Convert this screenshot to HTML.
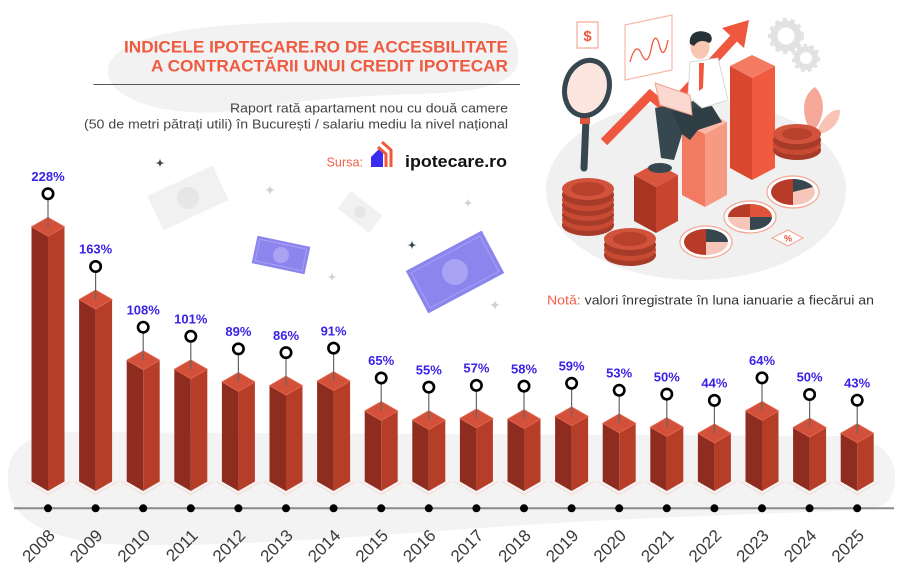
<!DOCTYPE html>
<html><head><meta charset="utf-8"><style>
html,body{margin:0;padding:0;background:#fff;}
svg{display:block;font-family:"Liberation Sans",sans-serif;}
</style></head><body>
<svg width="900" height="581" viewBox="0 0 900 581" xmlns="http://www.w3.org/2000/svg">
<rect width="900" height="581" fill="#fff"/>
<!-- background blobs -->
<path d="M108,70 C110,35 200,22 320,22 L470,22 C510,22 520,40 518,60 C516,85 480,92 420,94 C340,96 290,102 240,110 C170,120 106,100 108,70 Z" fill="#f2f2f2"/>
<path d="M8,485 C5,450 25,433 70,432 L840,436 C880,437 896,455 895,480 C894,500 885,508 860,510 C760,514 620,518 480,528 C360,537 220,547 130,545 C50,543 10,520 8,485 Z" fill="#f3f3f3"/>

<!-- title -->
<text x="508" y="52.3" text-anchor="end" font-size="17" font-weight="bold" fill="#f05a40" textLength="384" lengthAdjust="spacingAndGlyphs">INDICELE IPOTECARE.RO DE ACCESBILITATE</text>
<text x="508" y="71.7" text-anchor="end" font-size="17" font-weight="bold" fill="#f05a40" textLength="357" lengthAdjust="spacingAndGlyphs">A CONTRACTĂRII UNUI CREDIT IPOTECAR</text>
<line x1="93.5" y1="84.5" x2="520" y2="84.5" stroke="#555" stroke-width="1"/>
<text x="508" y="112.5" text-anchor="end" font-size="13" fill="#444" textLength="278" lengthAdjust="spacingAndGlyphs">Raport rată apartament nou cu două camere</text>
<text x="508" y="128.5" text-anchor="end" font-size="13" fill="#444" textLength="424" lengthAdjust="spacingAndGlyphs">(50 de metri pătrați utili) în București / salariu mediu la nivel național</text>

<!-- source -->
<text x="326.5" y="166.5" font-size="13" fill="#f2604a" textLength="36.5" lengthAdjust="spacingAndGlyphs">Sursa:</text>
<polygon points="371,167 371,157 380,148 383,150 383,167" fill="#3b2cf0"/>
<polyline points="378,147 386,154 386,167" fill="none" stroke="#f05a3a" stroke-width="3"/>
<polyline points="382,142 391,150 391,167" fill="none" stroke="#f05a3a" stroke-width="3"/>
<text x="405" y="167" font-size="17" font-weight="bold" fill="#111" textLength="102" lengthAdjust="spacingAndGlyphs">ipotecare.ro</text>

<!-- note -->
<text x="547" y="304.5" font-size="13" fill="#333" textLength="327" lengthAdjust="spacingAndGlyphs"><tspan fill="#f2604a">Notă:</tspan> valori înregistrate în luna ianuarie a fiecărui an</text>

<!-- floating money -->
<g transform="translate(188,198) rotate(-25)"><rect x="-36" y="-19" width="72" height="38" fill="#f1f1f1"/><circle r="11" fill="#e6e6e6"/></g>
<g transform="translate(360,212) rotate(38)"><rect x="-20" y="-11" width="40" height="22" fill="#f1f1f1"/><circle r="6" fill="#e6e6e6"/></g>
<g transform="translate(281,255) rotate(12)"><rect x="-27" y="-14" width="54" height="28" fill="#8c85ee"/><rect x="-24" y="-11" width="48" height="22" fill="none" stroke="#a7a1f3" stroke-width="1"/><circle r="8" fill="#a9a3f4"/></g>
<g transform="translate(455,272) rotate(-28)"><rect x="-43" y="-24" width="86" height="48" fill="#8c85ee"/><rect x="-39" y="-20" width="78" height="40" fill="none" stroke="#a7a1f3" stroke-width="1"/><circle r="13" fill="#a9a3f4"/></g>
<!-- sparkles -->
<g fill="#37474f">
<path d="M160,158 Q160,163 165,163 Q160,163 160,168 Q160,163 155,163 Q160,163 160,158 Z"/>
<path d="M412,240 Q412,245 417,245 Q412,245 412,250 Q412,245 407,245 Q412,245 412,240 Z"/>
</g>
<g fill="#d0d0d0">
<path d="M270,184 Q270,190 276,190 Q270,190 270,196 Q270,190 264,190 Q270,190 270,184 Z"/>
<path d="M468,198 Q468,203 473,203 Q468,203 468,208 Q468,203 463,203 Q468,203 468,198 Z"/>
<path d="M332,272 Q332,277 337,277 Q332,277 332,282 Q332,277 327,277 Q332,277 332,272 Z"/>
<path d="M495,299 Q495,305 501,305 Q495,305 495,311 Q495,305 489,305 Q495,305 495,299 Z"/>
</g>

<!-- illustration -->
<g>
<ellipse cx="696" cy="190" rx="150" ry="90" fill="#f0f0f0"/>
<rect x="577" y="22" width="21" height="26" fill="#fff" stroke="#f4a896" stroke-width="1.2"/>
<text x="587.5" y="41" text-anchor="middle" font-size="15" font-weight="bold" fill="#f05a40">$</text>
<polygon points="625,25 672,15 672,70 625,80" fill="#fff" stroke="#f6b9aa" stroke-width="1.2"/>
<path d="M630,62 Q636,40 642,55 Q648,68 652,45 Q656,30 660,48 Q664,60 668,40" fill="none" stroke="#f05a40" stroke-width="1.3"/>
<circle cx="786" cy="36" r="12" fill="none" stroke="#e2e2e2" stroke-width="7"/>
<circle cx="786" cy="36" r="16" fill="none" stroke="#e2e2e2" stroke-width="4" stroke-dasharray="4 4"/>
<circle cx="806" cy="58" r="9" fill="none" stroke="#e2e2e2" stroke-width="6"/>
<circle cx="806" cy="58" r="12.5" fill="none" stroke="#e2e2e2" stroke-width="3.5" stroke-dasharray="3.5 3.5"/>
<path d="M812,133 C800,115 802,95 815,87 C826,98 826,118 812,133 Z" fill="#f6a898"/>
<path d="M815,135 C822,118 832,108 840,110 C840,124 830,133 815,135 Z" fill="#f9c3b6"/>
<polyline points="604,142 650,95 668,110 736,36" fill="none" stroke="#f0573f" stroke-width="9" stroke-linejoin="miter"/>
<polygon points="749,20 722,28 744,48" fill="#f0573f"/>
<polygon points="730,66 752,78 752,180 730,168" fill="#d9472f"/>
<polygon points="752,78 775,66 775,168 752,180" fill="#f05a3f"/>
<polygon points="730,66 752,55 775,66 752,78" fill="#f47b62"/>
<polygon points="682,122 705,134 705,207 682,195" fill="#f27a60"/>
<polygon points="705,134 727,122 727,195 705,207" fill="#f79a84"/>
<polygon points="682,122 705,110 727,122 705,134" fill="#fbb9a8"/>
<polygon points="634,175 656,187 656,233 634,221" fill="#a83522"/>
<polygon points="656,187 678,175 678,221 656,233" fill="#c9442d"/>
<polygon points="634,175 656,163 678,175 656,187" fill="#d9553d"/>
<line x1="586" y1="118" x2="584" y2="168" stroke="#37474f" stroke-width="7" stroke-linecap="round"/>
<rect x="580" y="117" width="10" height="7" fill="#e0553c"/>
<ellipse cx="587" cy="88" rx="22" ry="28" fill="#fde6e0" stroke="#37474f" stroke-width="5" transform="rotate(15 587 88)"/>
<g>
<ellipse cx="588" cy="225" rx="26" ry="11" fill="#a53b28"/><ellipse cx="588" cy="220" rx="26" ry="11" fill="#c94a33"/>
<ellipse cx="588" cy="215" rx="26" ry="11" fill="#a53b28"/><ellipse cx="588" cy="210" rx="26" ry="11" fill="#c94a33"/>
<ellipse cx="588" cy="205" rx="26" ry="11" fill="#a53b28"/><ellipse cx="588" cy="200" rx="26" ry="11" fill="#c94a33"/>
<ellipse cx="588" cy="195" rx="26" ry="11" fill="#a53b28"/><ellipse cx="588" cy="189" rx="26" ry="11" fill="#d2533b"/>
<ellipse cx="588" cy="189" rx="17" ry="7" fill="#b8412c"/>
</g>
<g>
<ellipse cx="630" cy="255" rx="26" ry="11" fill="#a53b28"/><ellipse cx="630" cy="250" rx="26" ry="11" fill="#c94a33"/>
<ellipse cx="630" cy="245" rx="26" ry="11" fill="#a53b28"/><ellipse cx="630" cy="239" rx="26" ry="11" fill="#d2533b"/>
<ellipse cx="630" cy="239" rx="17" ry="7" fill="#b8412c"/>
</g>
<g>
<ellipse cx="797" cy="150" rx="24" ry="10" fill="#a53b28"/><ellipse cx="797" cy="145" rx="24" ry="10" fill="#c94a33"/>
<ellipse cx="797" cy="140" rx="24" ry="10" fill="#a53b28"/><ellipse cx="797" cy="134" rx="24" ry="10" fill="#d2533b"/>
<ellipse cx="797" cy="134" rx="15" ry="6" fill="#b8412c"/>
</g>
<g>
<ellipse cx="706" cy="242" rx="26" ry="16" fill="#fff" stroke="#f3a695" stroke-width="1.2"/>
<ellipse cx="706" cy="242" rx="22" ry="13" fill="#f7c6bb"/>
<path d="M706,242 L706,229 A22,13 0 0 0 706,255 Z" fill="#b83a28"/>
<path d="M706,242 L706,229 A22,13 0 0 1 728,242 Z" fill="#37474f"/>
<ellipse cx="750" cy="217" rx="26" ry="16" fill="#fff" stroke="#f3a695" stroke-width="1.2"/>
<ellipse cx="750" cy="217" rx="22" ry="13" fill="#f7c6bb"/>
<path d="M750,217 L728,217 A22,13 0 0 1 750,204 Z" fill="#b83a28"/>
<path d="M750,217 L750,204 A22,13 0 0 1 772,217 Z" fill="#e0533b"/>
<path d="M750,217 L772,217 A22,13 0 0 1 750,230 Z" fill="#37474f"/>
<ellipse cx="793" cy="192" rx="26" ry="16" fill="#fff" stroke="#f3a695" stroke-width="1.2"/>
<ellipse cx="793" cy="192" rx="22" ry="13" fill="#f7c6bb"/>
<path d="M793,192 L793,179 A22,13 0 0 0 793,205 Z" fill="#b83a28"/>
<path d="M793,192 L793,179 A22,13 0 0 1 813,187 Z" fill="#37474f"/>
</g>
<polygon points="772,238 788,230 803,238 788,246" fill="#fff" stroke="#f3a695" stroke-width="1"/>
<text x="788" y="241.5" text-anchor="middle" font-size="9" font-weight="bold" fill="#e0533b">%</text>
<path d="M655,108 L700,100 L716,118 L684,128 L674,160 L661,158 Z" fill="#37474f"/>
<path d="M672,112 L712,106 L722,122 L698,130 L690,140 L682,134 Z" fill="#2f3d44"/>
<ellipse cx="660" cy="168" rx="12" ry="5" fill="#37474f"/>
<path d="M690,62 L718,58 L728,100 L702,108 L688,96 Z" fill="#fff" stroke="#d8d8d8" stroke-width="1"/>
<polygon points="699,63 704,63 703,88 699,91" fill="#f0573f"/>
<polygon points="655,83 690,95 692,115 660,105" fill="#fbd9d0" stroke="#f0a08d" stroke-width="1"/>
<ellipse cx="700" cy="47" rx="9.5" ry="12" fill="#f7c7b2"/>
<path d="M690,44 C688,32 700,28 710,34 C713,38 712,42 709,43 C704,40 698,40 694,46 Z" fill="#263238"/>
</g>

<!-- axis -->
<line x1="14" y1="508.3" x2="894" y2="508.3" stroke="#8a8a8a" stroke-width="2"/>

<!-- bars -->
<g stroke="none">
<g transform="translate(48,0)"><polyline points="-22,481.5 0,494.5 22,481.5" fill="none" stroke="#f8d8d0"/><polygon points="-16.5,226.8 0,236.3 0,491 -16.5,481.5" fill="#8e2d1f"/><polygon points="0,236.3 16.5,226.8 16.5,481.5 0,491" fill="#b63e29"/><polygon points="0,217.3 16.5,226.8 0,236.3 -16.5,226.8" fill="#d3503a" stroke="#e46a52" stroke-width="0.8"/></g>
<g transform="translate(95.6,0)"><polyline points="-22,481.5 0,494.5 22,481.5" fill="none" stroke="#f8d8d0"/><polygon points="-16.5,299.5 0,309 0,491 -16.5,481.5" fill="#8e2d1f"/><polygon points="0,309 16.5,299.5 16.5,481.5 0,491" fill="#b63e29"/><polygon points="0,290 16.5,299.5 0,309 -16.5,299.5" fill="#d3503a" stroke="#e46a52" stroke-width="0.8"/></g>
<g transform="translate(143.2,0)"><polyline points="-22,481.5 0,494.5 22,481.5" fill="none" stroke="#f8d8d0"/><polygon points="-16.5,360.2 0,369.7 0,491 -16.5,481.5" fill="#8e2d1f"/><polygon points="0,369.7 16.5,360.2 16.5,481.5 0,491" fill="#b63e29"/><polygon points="0,350.7 16.5,360.2 0,369.7 -16.5,360.2" fill="#d3503a" stroke="#e46a52" stroke-width="0.8"/></g>
<g transform="translate(190.8,0)"><polyline points="-22,481.5 0,494.5 22,481.5" fill="none" stroke="#f8d8d0"/><polygon points="-16.5,369.3 0,378.8 0,491 -16.5,481.5" fill="#8e2d1f"/><polygon points="0,378.8 16.5,369.3 16.5,481.5 0,491" fill="#b63e29"/><polygon points="0,359.8 16.5,369.3 0,378.8 -16.5,369.3" fill="#d3503a" stroke="#e46a52" stroke-width="0.8"/></g>
<g transform="translate(238.4,0)"><polyline points="-22,481.5 0,494.5 22,481.5" fill="none" stroke="#f8d8d0"/><polygon points="-16.5,381.9 0,391.4 0,491 -16.5,481.5" fill="#8e2d1f"/><polygon points="0,391.4 16.5,381.9 16.5,481.5 0,491" fill="#b63e29"/><polygon points="0,372.4 16.5,381.9 0,391.4 -16.5,381.9" fill="#d3503a" stroke="#e46a52" stroke-width="0.8"/></g>
<g transform="translate(286,0)"><polyline points="-22,481.5 0,494.5 22,481.5" fill="none" stroke="#f8d8d0"/><polygon points="-16.5,385.6 0,395.1 0,491 -16.5,481.5" fill="#8e2d1f"/><polygon points="0,395.1 16.5,385.6 16.5,481.5 0,491" fill="#b63e29"/><polygon points="0,376.1 16.5,385.6 0,395.1 -16.5,385.6" fill="#d3503a" stroke="#e46a52" stroke-width="0.8"/></g>
<g transform="translate(333.6,0)"><polyline points="-22,481.5 0,494.5 22,481.5" fill="none" stroke="#f8d8d0"/><polygon points="-16.5,381.1 0,390.6 0,491 -16.5,481.5" fill="#8e2d1f"/><polygon points="0,390.6 16.5,381.1 16.5,481.5 0,491" fill="#b63e29"/><polygon points="0,371.6 16.5,381.1 0,390.6 -16.5,381.1" fill="#d3503a" stroke="#e46a52" stroke-width="0.8"/></g>
<g transform="translate(381.2,0)"><polyline points="-22,481.5 0,494.5 22,481.5" fill="none" stroke="#f8d8d0"/><polygon points="-16.5,411 0,420.5 0,491 -16.5,481.5" fill="#8e2d1f"/><polygon points="0,420.5 16.5,411 16.5,481.5 0,491" fill="#b63e29"/><polygon points="0,401.5 16.5,411 0,420.5 -16.5,411" fill="#d3503a" stroke="#e46a52" stroke-width="0.8"/></g>
<g transform="translate(428.8,0)"><polyline points="-22,481.5 0,494.5 22,481.5" fill="none" stroke="#f8d8d0"/><polygon points="-16.5,420.1 0,429.6 0,491 -16.5,481.5" fill="#8e2d1f"/><polygon points="0,429.6 16.5,420.1 16.5,481.5 0,491" fill="#b63e29"/><polygon points="0,410.6 16.5,420.1 0,429.6 -16.5,420.1" fill="#d3503a" stroke="#e46a52" stroke-width="0.8"/></g>
<g transform="translate(476.4,0)"><polyline points="-22,481.5 0,494.5 22,481.5" fill="none" stroke="#f8d8d0"/><polygon points="-16.5,418.4 0,427.9 0,491 -16.5,481.5" fill="#8e2d1f"/><polygon points="0,427.9 16.5,418.4 16.5,481.5 0,491" fill="#b63e29"/><polygon points="0,408.9 16.5,418.4 0,427.9 -16.5,418.4" fill="#d3503a" stroke="#e46a52" stroke-width="0.8"/></g>
<g transform="translate(524,0)"><polyline points="-22,481.5 0,494.5 22,481.5" fill="none" stroke="#f8d8d0"/><polygon points="-16.5,419.1 0,428.6 0,491 -16.5,481.5" fill="#8e2d1f"/><polygon points="0,428.6 16.5,419.1 16.5,481.5 0,491" fill="#b63e29"/><polygon points="0,409.6 16.5,419.1 0,428.6 -16.5,419.1" fill="#d3503a" stroke="#e46a52" stroke-width="0.8"/></g>
<g transform="translate(571.6,0)"><polyline points="-22,481.5 0,494.5 22,481.5" fill="none" stroke="#f8d8d0"/><polygon points="-16.5,416.3 0,425.8 0,491 -16.5,481.5" fill="#8e2d1f"/><polygon points="0,425.8 16.5,416.3 16.5,481.5 0,491" fill="#b63e29"/><polygon points="0,406.8 16.5,416.3 0,425.8 -16.5,416.3" fill="#d3503a" stroke="#e46a52" stroke-width="0.8"/></g>
<g transform="translate(619.2,0)"><polyline points="-22,481.5 0,494.5 22,481.5" fill="none" stroke="#f8d8d0"/><polygon points="-16.5,423.3 0,432.8 0,491 -16.5,481.5" fill="#8e2d1f"/><polygon points="0,432.8 16.5,423.3 16.5,481.5 0,491" fill="#b63e29"/><polygon points="0,413.8 16.5,423.3 0,432.8 -16.5,423.3" fill="#d3503a" stroke="#e46a52" stroke-width="0.8"/></g>
<g transform="translate(666.8,0)"><polyline points="-22,481.5 0,494.5 22,481.5" fill="none" stroke="#f8d8d0"/><polygon points="-16.5,427.1 0,436.6 0,491 -16.5,481.5" fill="#8e2d1f"/><polygon points="0,436.6 16.5,427.1 16.5,481.5 0,491" fill="#b63e29"/><polygon points="0,417.6 16.5,427.1 0,436.6 -16.5,427.1" fill="#d3503a" stroke="#e46a52" stroke-width="0.8"/></g>
<g transform="translate(714.4,0)"><polyline points="-22,481.5 0,494.5 22,481.5" fill="none" stroke="#f8d8d0"/><polygon points="-16.5,433.4 0,442.9 0,491 -16.5,481.5" fill="#8e2d1f"/><polygon points="0,442.9 16.5,433.4 16.5,481.5 0,491" fill="#b63e29"/><polygon points="0,423.9 16.5,433.4 0,442.9 -16.5,433.4" fill="#d3503a" stroke="#e46a52" stroke-width="0.8"/></g>
<g transform="translate(762,0)"><polyline points="-22,481.5 0,494.5 22,481.5" fill="none" stroke="#f8d8d0"/><polygon points="-16.5,410.9 0,420.4 0,491 -16.5,481.5" fill="#8e2d1f"/><polygon points="0,420.4 16.5,410.9 16.5,481.5 0,491" fill="#b63e29"/><polygon points="0,401.4 16.5,410.9 0,420.4 -16.5,410.9" fill="#d3503a" stroke="#e46a52" stroke-width="0.8"/></g>
<g transform="translate(809.6,0)"><polyline points="-22,481.5 0,494.5 22,481.5" fill="none" stroke="#f8d8d0"/><polygon points="-16.5,427.5 0,437 0,491 -16.5,481.5" fill="#8e2d1f"/><polygon points="0,437 16.5,427.5 16.5,481.5 0,491" fill="#b63e29"/><polygon points="0,418 16.5,427.5 0,437 -16.5,427.5" fill="#d3503a" stroke="#e46a52" stroke-width="0.8"/></g>
<g transform="translate(857.2,0)"><polyline points="-22,481.5 0,494.5 22,481.5" fill="none" stroke="#f8d8d0"/><polygon points="-16.5,433.2 0,442.7 0,491 -16.5,481.5" fill="#8e2d1f"/><polygon points="0,442.7 16.5,433.2 16.5,481.5 0,491" fill="#b63e29"/><polygon points="0,423.7 16.5,433.2 0,442.7 -16.5,433.2" fill="#d3503a" stroke="#e46a52" stroke-width="0.8"/></g>
</g>

<!-- stems & markers -->
<g stroke="#666" stroke-width="1.2">
<line x1="48" y1="199.1" x2="48" y2="226.8"/>
<line x1="95.6" y1="271.8" x2="95.6" y2="299.5"/>
<line x1="143.2" y1="332.5" x2="143.2" y2="360.2"/>
<line x1="190.8" y1="341.6" x2="190.8" y2="369.3"/>
<line x1="238.4" y1="354.2" x2="238.4" y2="381.9"/>
<line x1="286" y1="357.9" x2="286" y2="385.6"/>
<line x1="333.6" y1="353.4" x2="333.6" y2="381.1"/>
<line x1="381.2" y1="383.3" x2="381.2" y2="411"/>
<line x1="428.8" y1="392.4" x2="428.8" y2="420.1"/>
<line x1="476.4" y1="390.7" x2="476.4" y2="418.4"/>
<line x1="524" y1="391.4" x2="524" y2="419.1"/>
<line x1="571.6" y1="388.6" x2="571.6" y2="416.3"/>
<line x1="619.2" y1="395.6" x2="619.2" y2="423.3"/>
<line x1="666.8" y1="399.4" x2="666.8" y2="427.1"/>
<line x1="714.4" y1="405.7" x2="714.4" y2="433.4"/>
<line x1="762" y1="383.2" x2="762" y2="410.9"/>
<line x1="809.6" y1="399.8" x2="809.6" y2="427.5"/>
<line x1="857.2" y1="405.5" x2="857.2" y2="433.2"/>
</g>
<g fill="#fff" stroke="#000" stroke-width="2.6">
<circle cx="48" cy="193.8" r="5.2"/>
<circle cx="95.6" cy="266.5" r="5.2"/>
<circle cx="143.2" cy="327.2" r="5.2"/>
<circle cx="190.8" cy="336.3" r="5.2"/>
<circle cx="238.4" cy="348.9" r="5.2"/>
<circle cx="286" cy="352.6" r="5.2"/>
<circle cx="333.6" cy="348.1" r="5.2"/>
<circle cx="381.2" cy="378" r="5.2"/>
<circle cx="428.8" cy="387.1" r="5.2"/>
<circle cx="476.4" cy="385.4" r="5.2"/>
<circle cx="524" cy="386.1" r="5.2"/>
<circle cx="571.6" cy="383.3" r="5.2"/>
<circle cx="619.2" cy="390.3" r="5.2"/>
<circle cx="666.8" cy="394.1" r="5.2"/>
<circle cx="714.4" cy="400.4" r="5.2"/>
<circle cx="762" cy="377.9" r="5.2"/>
<circle cx="809.6" cy="394.5" r="5.2"/>
<circle cx="857.2" cy="400.2" r="5.2"/>
</g>

<!-- value labels -->
<g font-size="13" font-weight="bold" fill="#3a22e6" text-anchor="middle">
<text x="48" y="181">228%</text>
<text x="95.6" y="253.7">163%</text>
<text x="143.2" y="314.4">108%</text>
<text x="190.8" y="323.5">101%</text>
<text x="238.4" y="336.1">89%</text>
<text x="286" y="339.8">86%</text>
<text x="333.6" y="335.3">91%</text>
<text x="381.2" y="365.2">65%</text>
<text x="428.8" y="374.3">55%</text>
<text x="476.4" y="372.6">57%</text>
<text x="524" y="373.3">58%</text>
<text x="571.6" y="370.5">59%</text>
<text x="619.2" y="377.5">53%</text>
<text x="666.8" y="381.3">50%</text>
<text x="714.4" y="387.6">44%</text>
<text x="762" y="365.1">64%</text>
<text x="809.6" y="381.7">50%</text>
<text x="857.2" y="387.4">43%</text>
</g>

<!-- axis dots -->
<g fill="#000">
<circle cx="48" cy="508.3" r="4"/><circle cx="95.6" cy="508.3" r="4"/><circle cx="143.2" cy="508.3" r="4"/><circle cx="190.8" cy="508.3" r="4"/><circle cx="238.4" cy="508.3" r="4"/><circle cx="286" cy="508.3" r="4"/><circle cx="333.6" cy="508.3" r="4"/><circle cx="381.2" cy="508.3" r="4"/><circle cx="428.8" cy="508.3" r="4"/><circle cx="476.4" cy="508.3" r="4"/><circle cx="524" cy="508.3" r="4"/><circle cx="571.6" cy="508.3" r="4"/><circle cx="619.2" cy="508.3" r="4"/><circle cx="666.8" cy="508.3" r="4"/><circle cx="714.4" cy="508.3" r="4"/><circle cx="762" cy="508.3" r="4"/><circle cx="809.6" cy="508.3" r="4"/><circle cx="857.2" cy="508.3" r="4"/>
</g>

<!-- year labels -->
<g font-size="17" fill="#3a3a3a" text-anchor="end">
<text transform="translate(56,536.5) rotate(-45)">2008</text>
<text transform="translate(103.6,536.5) rotate(-45)">2009</text>
<text transform="translate(151.2,536.5) rotate(-45)">2010</text>
<text transform="translate(198.8,536.5) rotate(-45)">2011</text>
<text transform="translate(246.4,536.5) rotate(-45)">2012</text>
<text transform="translate(294,536.5) rotate(-45)">2013</text>
<text transform="translate(341.6,536.5) rotate(-45)">2014</text>
<text transform="translate(389.2,536.5) rotate(-45)">2015</text>
<text transform="translate(436.8,536.5) rotate(-45)">2016</text>
<text transform="translate(484.4,536.5) rotate(-45)">2017</text>
<text transform="translate(532,536.5) rotate(-45)">2018</text>
<text transform="translate(579.6,536.5) rotate(-45)">2019</text>
<text transform="translate(627.2,536.5) rotate(-45)">2020</text>
<text transform="translate(674.8,536.5) rotate(-45)">2021</text>
<text transform="translate(722.4,536.5) rotate(-45)">2022</text>
<text transform="translate(770,536.5) rotate(-45)">2023</text>
<text transform="translate(817.6,536.5) rotate(-45)">2024</text>
<text transform="translate(865.2,536.5) rotate(-45)">2025</text>
</g>
</svg>
</body></html>
